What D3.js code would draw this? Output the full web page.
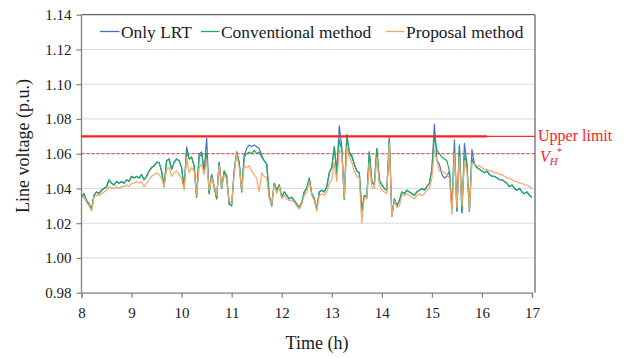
<!DOCTYPE html>
<html>
<head>
<meta charset="utf-8">
<script src="https://cdn.jsdelivr.net/npm/d3@7"></script>
<style>
  html, body { margin: 0; padding: 0; background: #fff; }
  svg { display: block; }
  text { font-family: "Liberation Serif", "DejaVu Serif", serif; fill: #1a1a1a; }
</style>
</head>
<body>
<svg id="chart" width="625" height="358"></svg>
<script>
// Line voltage over the day, sampled every 3 minutes from 8:00 to 17:00
const startHour = 8;
const stepHour = 0.05;

const onlyLRT = [
  1.035,1.037,1.033,1.031,1.028,1.036,1.038,1.037,1.039,1.040,1.041,1.045,1.043,1.042,1.044,1.043,1.044,1.043,1.045,1.044,
  1.047,1.046,1.047,1.046,1.048,1.045,1.047,1.050,1.052,1.053,1.055,1.055,1.050,1.041,1.056,1.057,1.051,1.055,1.057,1.056,
  1.052,1.040,1.064,1.057,1.058,1.053,1.035,1.060,1.061,1.050,1.069,1.037,1.048,1.041,1.034,1.055,1.040,1.050,1.047,1.031,
  1.030,1.050,1.061,1.055,1.038,1.059,1.063,1.065,1.064,1.065,1.064,1.063,1.059,1.056,1.054,1.036,1.030,1.043,1.039,1.042,
  1.035,1.038,1.036,1.034,1.035,1.033,1.031,1.029,1.032,1.038,1.040,1.046,1.037,1.034,1.028,1.038,1.039,1.038,1.041,1.049,
  1.052,1.064,1.050,1.076,1.064,1.034,1.071,1.061,1.059,1.054,1.050,1.049,1.027,1.036,1.035,1.061,1.044,1.042,1.063,1.045,
  1.042,1.040,1.039,1.069,1.024,1.034,1.030,1.033,1.038,1.037,1.039,1.038,1.037,1.036,1.038,1.039,1.040,1.039,1.041,1.043,
  1.051,1.077,1.056,1.054,1.048,1.046,1.047,1.050,1.028,1.068,1.027,1.065,1.026,1.066,1.054,1.027,1.0625,1.054,1.052,1.051,
  1.050,1.049,1.050,1.048,1.047,1.047,1.046,1.045,1.045,1.044,1.043,1.041,1.042,1.040,1.039,1.040,1.038,1.037,1.038,1.036,
  1.035
];

const conventional = [
  1.035,1.037,1.033,1.031,1.028,1.036,1.038,1.037,1.039,1.040,1.041,1.045,1.043,1.042,1.044,1.043,1.044,1.043,1.045,1.044,
  1.047,1.046,1.047,1.046,1.048,1.045,1.047,1.050,1.052,1.053,1.055,1.055,1.050,1.041,1.056,1.057,1.051,1.055,1.057,1.056,
  1.052,1.040,1.061,1.057,1.058,1.053,1.035,1.058,1.060,1.050,1.060,1.037,1.048,1.041,1.034,1.055,1.040,1.050,1.047,1.031,
  1.030,1.050,1.061,1.055,1.038,1.058,1.060,1.061,1.060,1.062,1.060,1.061,1.058,1.056,1.054,1.036,1.030,1.043,1.039,1.042,
  1.035,1.038,1.036,1.034,1.035,1.033,1.031,1.029,1.032,1.038,1.040,1.046,1.037,1.034,1.028,1.038,1.039,1.038,1.041,1.049,
  1.052,1.064,1.048,1.068,1.062,1.034,1.071,1.060,1.058,1.054,1.050,1.049,1.027,1.036,1.035,1.061,1.044,1.042,1.063,1.045,
  1.042,1.040,1.039,1.069,1.024,1.034,1.030,1.033,1.038,1.037,1.039,1.038,1.037,1.036,1.038,1.039,1.040,1.039,1.041,1.043,
  1.051,1.070,1.062,1.060,1.058,1.057,1.056,1.050,1.028,1.062,1.027,1.064,1.026,1.059,1.054,1.027,1.057,1.054,1.052,1.051,
  1.050,1.049,1.050,1.048,1.047,1.047,1.046,1.045,1.045,1.044,1.043,1.041,1.042,1.040,1.039,1.040,1.038,1.037,1.038,1.036,
  1.035
];

const proposal = [
  1.034,1.035,1.032,1.030,1.027,1.035,1.036,1.036,1.037,1.038,1.039,1.041,1.040,1.040,1.041,1.040,1.041,1.041,1.042,1.041,
  1.043,1.043,1.044,1.043,1.044,1.041,1.043,1.045,1.047,1.048,1.049,1.048,1.046,1.041,1.051,1.052,1.047,1.049,1.050,1.048,
  1.046,1.039,1.058,1.049,1.052,1.050,1.036,1.052,1.054,1.048,1.057,1.039,1.046,1.042,1.036,1.053,1.041,1.048,1.045,1.033,
  1.031,1.048,1.060,1.052,1.039,1.053,1.052,1.053,1.050,1.048,1.046,1.038,1.049,1.047,1.046,1.034,1.031,1.042,1.037,1.041,
  1.034,1.036,1.034,1.033,1.033,1.032,1.030,1.028,1.031,1.036,1.038,1.044,1.036,1.033,1.027,1.036,1.037,1.036,1.038,1.043,
  1.045,1.055,1.044,1.062,1.060,1.035,1.064,1.058,1.055,1.050,1.047,1.046,1.020,1.035,1.034,1.055,1.041,1.040,1.058,1.042,
  1.039,1.038,1.037,1.066,1.024,1.033,1.029,1.030,1.036,1.036,1.037,1.036,1.035,1.034,1.036,1.037,1.036,1.037,1.039,1.040,
  1.046,1.062,1.056,1.050,1.050,1.049,1.048,1.046,1.025,1.060,1.029,1.058,1.030,1.056,1.050,1.028,1.055,1.054,1.053,1.053,
  1.052,1.051,1.051,1.050,1.050,1.049,1.049,1.048,1.048,1.047,1.046,1.046,1.045,1.044,1.044,1.043,1.043,1.042,1.042,1.041,
  1.040
];

const seriesNames = ["Only LRT", "Conventional method", "Proposal method"];
const seriesColors = ["#4472C4", "#1DAA63", "#F4A66A"];

const xTicks = [8, 9, 10, 11, 12, 13, 14, 15, 16, 17];
const yTicks = [0.98, 1.00, 1.02, 1.04, 1.06, 1.08, 1.10, 1.12, 1.14];

const upperLimit = 1.07;
const upperLimitEnd = 16.1;   // hour where the plotted limit line stops
const vhStar = 1.06;

// ---- layout ----
const svg = d3.select("#chart");
const plotL = 81.5, plotR = 532, plotT = 14.7, plotB = 292.7;
const frameRight = 535;

const x = d3.scaleLinear().domain([8, 17]).range([plotL, plotR]);
const y = d3.scaleLinear().domain([0.98, 1.14]).range([plotB, plotT]);

// horizontal gridlines
svg.append("g")
  .selectAll("line")
  .data(yTicks.filter(v => v > 0.98 && v < 1.14))
  .join("line")
  .attr("x1", plotL).attr("x2", frameRight)
  .attr("y1", d => y(d)).attr("y2", d => y(d))
  .attr("stroke", "#D9D9D9").attr("stroke-width", 1);

// frame: top and right edges
svg.append("line")
  .attr("x1", plotL).attr("x2", frameRight).attr("y1", plotT).attr("y2", plotT)
  .attr("stroke", "#404040").attr("stroke-width", 1);
svg.append("line")
  .attr("x1", frameRight).attr("x2", frameRight).attr("y1", plotT).attr("y2", plotB)
  .attr("stroke", "#404040").attr("stroke-width", 1);

// axes
const yAxis = svg.append("g")
  .attr("transform", `translate(${plotL},0)`)
  .call(d3.axisLeft(y).tickValues(yTicks).tickFormat(d3.format(".2f")).tickSize(5).tickPadding(5));
const xAxis = svg.append("g")
  .attr("transform", `translate(0,${plotB})`)
  .call(d3.axisBottom(x).tickValues(xTicks).tickFormat(d3.format("d")).tickSize(5).tickPadding(8));

[yAxis, xAxis].forEach(g => {
  g.select(".domain").attr("stroke", "#808080").attr("stroke-width", 1.3);
  g.selectAll(".tick line").attr("stroke", "#808080").attr("stroke-width", 1.2);
  g.selectAll(".tick text")
    .style("font-family", '"Liberation Serif", "DejaVu Serif", serif')
    .style("font-size", "15px").attr("fill", "#1a1a1a");
});
yAxis.select(".domain").attr("d", `M0,${plotB}V${plotT}`);
xAxis.selectAll(".tick text").attr("dy", "0.85em");

// reference lines
svg.append("line")
  .attr("x1", x(8)).attr("x2", frameRight)
  .attr("y1", y(vhStar)).attr("y2", y(vhStar))
  .attr("stroke", "#E8262B").attr("stroke-width", 0.9).attr("stroke-dasharray", "3,2");

// voltage series
const hours = onlyLRT.map((_, i) => startHour + i * stepHour);
const line = d3.line().x((d, i) => x(hours[i])).y(d => y(d));
[onlyLRT, conventional, proposal].forEach((vals, k) => {
  svg.append("path")
    .datum(vals)
    .attr("d", line)
    .attr("fill", "none")
    .attr("stroke", seriesColors[k])
    .attr("stroke-width", 1.2)
    .attr("stroke-linejoin", "round");
});

// upper voltage limit
svg.append("line")
  .attr("x1", x(upperLimitEnd)).attr("x2", frameRight)
  .attr("y1", y(upperLimit)).attr("y2", y(upperLimit))
  .attr("stroke", "#FF2A2A").attr("stroke-width", 1.1);
svg.append("line")
  .attr("x1", x(8)).attr("x2", x(upperLimitEnd))
  .attr("y1", y(upperLimit)).attr("y2", y(upperLimit))
  .attr("stroke", "#FF2020").attr("stroke-width", 2.2);

svg.append("text")
  .attr("x", frameRight + 3).attr("y", y(upperLimit) + 5)
  .style("font-size", "16px").style("fill", "#FF2020")
  .text("Upper limit");

const vh = svg.append("text")
  .attr("x", frameRight + 5).attr("y", y(vhStar) + 8)
  .style("font-size", "16px").style("fill", "#FF2020");
vh.append("tspan").style("font-style", "italic").style("fill", "#FF2020").text("V");
vh.append("tspan").style("font-style", "italic").style("fill", "#FF2020").style("font-size", "11px").attr("dy", 3).text("H");
vh.append("tspan").style("fill", "#FF2020").style("font-size", "11px").attr("dy", -10).attr("dx", -1).text("*");

// legend
const legendItems = [
  { x0: 100, tx: 121 },
  { x0: 201, tx: 221 },
  { x0: 386, tx: 406 }
];
const legend = svg.append("g");
seriesNames.forEach((name, k) => {
  legend.append("line")
    .attr("x1", legendItems[k].x0).attr("x2", legendItems[k].tx - 1.5)
    .attr("y1", 31.5).attr("y2", 31.5)
    .attr("stroke", seriesColors[k]).attr("stroke-width", 1.3);
  legend.append("text")
    .attr("x", legendItems[k].tx).attr("y", 37.5)
    .style("font-size", "17.4px")
    .text(name);
});

// axis titles
svg.append("text")
  .attr("x", 317).attr("y", 349)
  .attr("text-anchor", "middle")
  .style("font-size", "18px")
  .text("Time (h)");
svg.append("text")
  .attr("transform", `translate(29,146) rotate(-90)`)
  .attr("text-anchor", "middle")
  .style("font-size", "18px")
  .text("Line voltage (p.u.)");
</script>
</body>
</html>
